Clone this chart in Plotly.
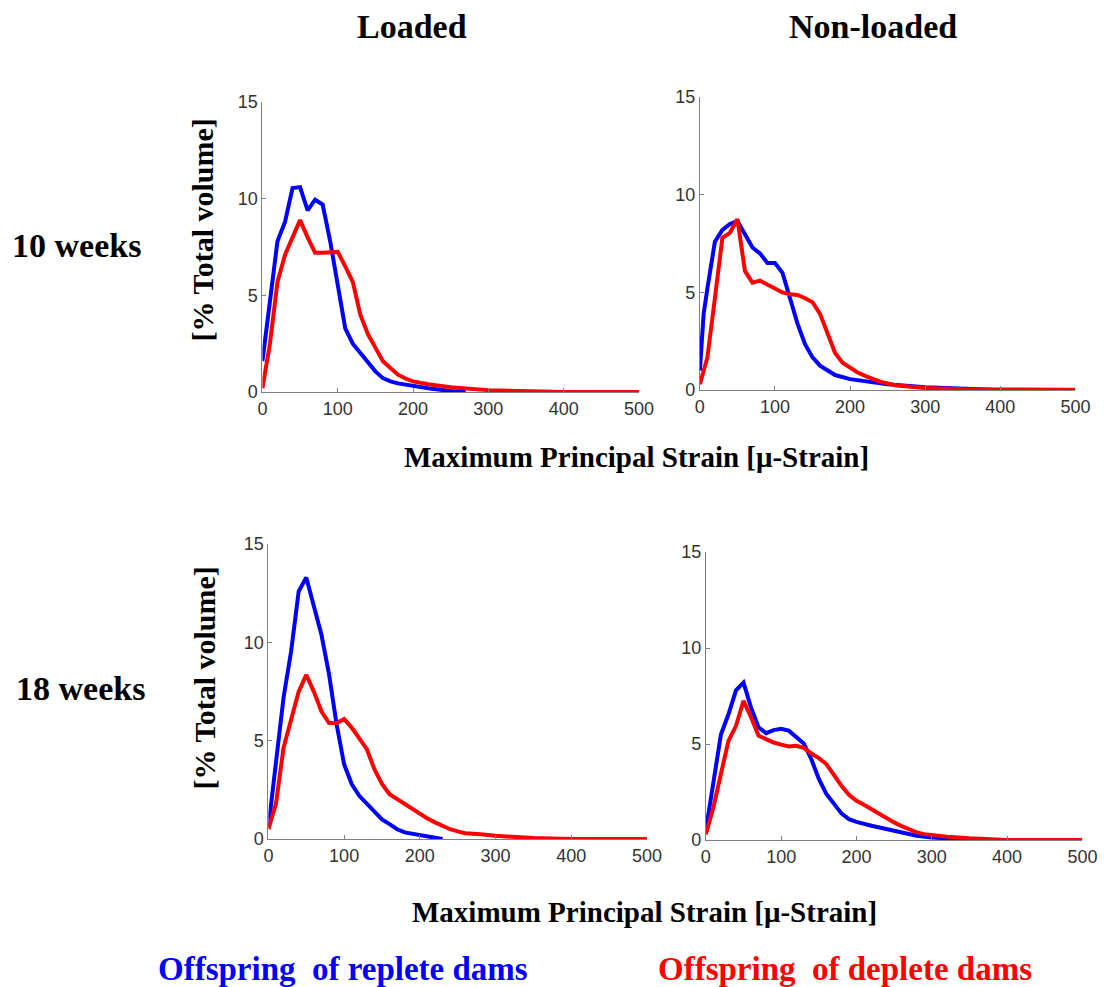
import plotly.graph_objects as go

# ---------------- data ----------------
# Panel: Loaded, 10 weeks
x_l10_blue = [0, 10, 20, 30, 40, 50, 60, 70, 80, 90, 100, 110, 120, 130, 140, 150, 160, 170, 180, 200, 220, 250, 270]
y_l10_blue = [1.6, 4.9, 7.8, 8.8, 10.55, 10.6, 9.4, 9.95, 9.7, 7.8, 5.4, 3.3, 2.5, 2.0, 1.5, 1.07, 0.72, 0.55, 0.45, 0.3, 0.2, 0.05, 0.0]
x_l10_red = [0, 10, 20, 30, 40, 50, 60, 70, 80, 90, 100, 110, 120, 130, 140, 150, 160, 170, 180, 190, 200, 220, 250, 300, 350, 400, 500]
y_l10_red = [0.2, 2.5, 5.7, 7.1, 8.0, 8.9, 8.0, 7.2, 7.2, 7.2, 7.25, 6.5, 5.7, 4.0, 3.0, 2.3, 1.6, 1.25, 0.9, 0.7, 0.55, 0.4, 0.25, 0.1, 0.03, 0.0, 0.0]

# Panel: Non-loaded, 10 weeks
x_n10_blue = [0, 5, 10, 20, 30, 40, 50, 60, 70, 80, 90, 100, 110, 120, 130, 140, 150, 160, 170, 180, 200, 220, 250, 300, 350, 390]
y_n10_blue = [1.0, 3.9, 5.2, 7.6, 8.2, 8.5, 8.65, 8.0, 7.3, 7.0, 6.5, 6.5, 6.0, 4.7, 3.4, 2.35, 1.67, 1.25, 1.0, 0.77, 0.56, 0.45, 0.3, 0.15, 0.07, 0.02]
x_n10_red = [0, 10, 20, 30, 40, 50, 60, 70, 80, 90, 100, 110, 120, 130, 140, 150, 160, 170, 180, 190, 200, 210, 220, 240, 260, 280, 300, 350, 400, 500]
y_n10_red = [0.3, 1.67, 4.7, 7.8, 8.05, 8.75, 6.1, 5.5, 5.6, 5.4, 5.15, 5.0, 4.9, 4.87, 4.7, 4.5, 3.9, 2.85, 1.9, 1.4, 1.15, 0.9, 0.73, 0.43, 0.25, 0.15, 0.1, 0.04, 0.02, 0.02]

# Panel: Loaded, 18 weeks
x_l18_blue = [0, 10, 20, 30, 40, 50, 60, 70, 80, 90, 100, 110, 120, 130, 140, 150, 160, 170, 180, 200, 220, 230]
y_l18_blue = [0.6, 4.0, 7.2, 9.55, 12.6, 13.3, 11.75, 10.4, 8.4, 5.85, 3.8, 2.8, 2.2, 1.78, 1.35, 1.0, 0.76, 0.5, 0.34, 0.22, 0.05, 0.0]
x_l18_red = [0, 10, 20, 30, 40, 50, 60, 70, 80, 90, 100, 110, 120, 130, 140, 150, 160, 170, 180, 190, 200, 210, 220, 230, 240, 250, 260, 280, 300, 350, 400, 500]
y_l18_red = [0.5, 1.8, 4.65, 6.1, 7.5, 8.35, 7.5, 6.5, 5.9, 5.9, 6.1, 5.67, 5.15, 4.57, 3.55, 2.8, 2.28, 2.03, 1.8, 1.52, 1.27, 1.05, 0.85, 0.68, 0.5, 0.39, 0.3, 0.25, 0.17, 0.05, 0.01, 0.0]

# Panel: Non-loaded, 18 weeks
x_n18_blue = [0, 10, 20, 30, 40, 50, 60, 70, 80, 90, 100, 110, 120, 130, 140, 150, 160, 170, 180, 190, 200, 220, 240, 260, 280, 300, 320, 350]
y_n18_blue = [0.5, 2.9, 5.5, 6.55, 7.8, 8.2, 6.9, 5.87, 5.57, 5.73, 5.8, 5.7, 5.35, 5.03, 4.22, 3.18, 2.4, 1.87, 1.39, 1.09, 0.95, 0.75, 0.57, 0.4, 0.23, 0.14, 0.08, 0.0]
x_n18_red = [0, 10, 20, 30, 40, 50, 60, 70, 80, 90, 100, 110, 120, 130, 140, 150, 160, 170, 180, 190, 200, 210, 220, 230, 240, 250, 260, 270, 280, 290, 300, 320, 350, 380, 400, 500]
y_n18_red = [0.3, 1.7, 3.44, 5.17, 5.95, 7.25, 6.4, 5.43, 5.26, 5.08, 4.97, 4.88, 4.91, 4.8, 4.51, 4.27, 3.96, 3.35, 2.83, 2.36, 2.05, 1.84, 1.6, 1.35, 1.13, 0.92, 0.73, 0.56, 0.4, 0.31, 0.26, 0.18, 0.09, 0.03, 0.01, 0.01]

x_ticks = [0, 100, 200, 300, 400, 500]
y_ticks = [0, 5, 10, 15]
col_titles = ["Loaded", "Non-loaded"]
row_titles = ["10 weeks", "18 weeks"]
y_title = "[% Total volume]"
x_title = "Maximum Principal Strain [μ-Strain]"
legend_blue = "Offspring&nbsp;&nbsp;of replete dams"
legend_red = "Offspring&nbsp;&nbsp;of deplete dams"

# the html body has an 8px margin; figure is sized to leave room at the bottom
OFF = 8
W, H = 1113 - 2 * OFF, 1001
BLUE = "#0000FF"
RED = "#FF0000"
# calibration of the photographed page (picture = a + b * page)
AX, BX = 4.4, 0.983
AY, BY = 9.1, 0.980

# ---------------- layout helpers ----------------
def px(v):
    return ((v - AX) / BX - OFF) / W

def py(v):
    return 1 - ((v - AY) / BY - OFF) / H

def xd(a, b):
    return [px(a), px(b)]

def yd(top, bottom):
    return [py(bottom), py(top)]

panels = [
    # (xdomain px, ydomain px, blue, red)
    ((262, 639), (101, 391), (x_l10_blue, y_l10_blue), (x_l10_red, y_l10_red)),
    ((700, 1076), (96, 389), (x_n10_blue, y_n10_blue), (x_n10_red, y_n10_red)),
    ((268, 647), (543, 838), (x_l18_blue, y_l18_blue), (x_l18_red, y_l18_red)),
    ((706, 1083), (551, 839), (x_n18_blue, y_n18_blue), (x_n18_red, y_n18_red)),
]

fig = go.Figure()
layout = {}
for i, (xp, yp, blue, red) in enumerate(panels):
    n = i + 1
    xa = "x" if n == 1 else f"x{n}"
    ya = "y" if n == 1 else f"y{n}"
    fig.add_trace(go.Scatter(x=blue[0], y=blue[1], mode="lines", xaxis=xa, yaxis=ya,
                             line=dict(color=BLUE, width=4), showlegend=False))
    fig.add_trace(go.Scatter(x=red[0], y=red[1], mode="lines", xaxis=xa, yaxis=ya,
                             line=dict(color=RED, width=4), showlegend=False))
    common = dict(showgrid=False, zeroline=False, showline=True, linecolor="#808080",
                  linewidth=1, ticks="inside", ticklen=4, tickcolor="#808080",
                  tickfont=dict(family="Liberation Sans, Arial", size=18, color="#333333"),
                  mirror=False)
    layout[f"xaxis{'' if n == 1 else n}"] = dict(
        domain=xd(*xp), range=[0, 500], tickvals=x_ticks, anchor=ya, **common)
    layout[f"yaxis{'' if n == 1 else n}"] = dict(
        domain=yd(*yp), range=[0, 15], tickvals=y_ticks, anchor=xa, **common)

serif = "Liberation Serif, Times New Roman, serif"
ann = []
def text(x, y, s, size, color="black", angle=0):
    ann.append(dict(x=px(x), y=py(y), xref="paper", yref="paper",
                    text=f"<b>{s}</b>", showarrow=False, textangle=angle,
                    xanchor="center", yanchor="middle",
                    font=dict(family=serif, size=size, color=color)))

text(412, 25, col_titles[0], 34)
text(873, 25, col_titles[1], 34)
text(76, 244, row_titles[0], 34)
text(80, 687, row_titles[1], 34)
text(202, 229, y_title, 30, angle=-90)
text(204, 677, y_title, 30, angle=-90)
text(637, 456, x_title, 29)
text(645, 911, x_title, 29)
text(343, 968, legend_blue, 33, color=BLUE)
text(845, 968, legend_red, 33, color=RED)

fig.update_layout(width=W, height=H, margin=dict(l=0, r=0, t=0, b=0),
                  paper_bgcolor="white", plot_bgcolor="white",
                  annotations=ann, showlegend=False, **layout)

fig.write_html("out.html")
